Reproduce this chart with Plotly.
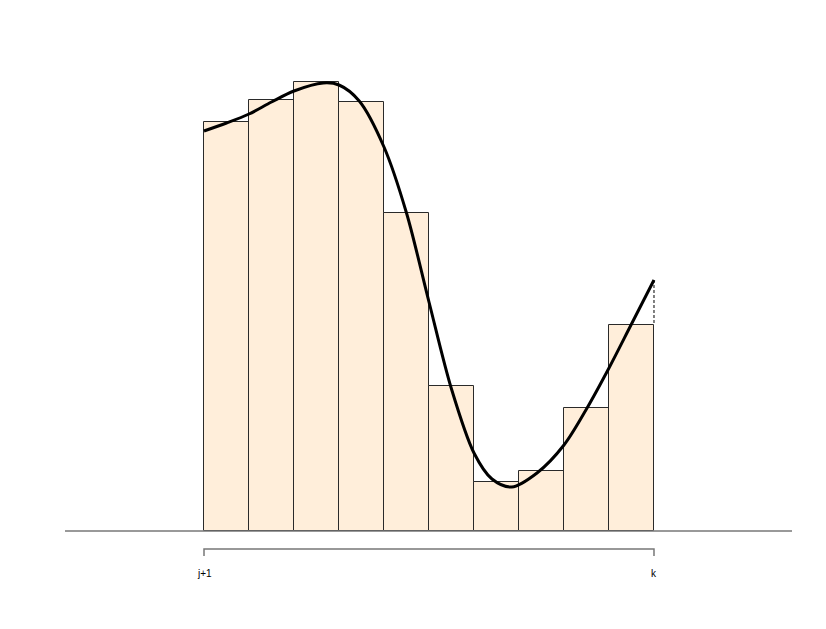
import plotly.graph_objects as go

# bar heights (px units above baseline), one per subinterval j+1 .. k
bar_pos = [0.5, 1.5, 2.5, 3.5, 4.5, 5.5, 6.5, 7.5, 8.5, 9.5]
bar_heights = [409, 431, 449, 429, 318, 145, 49, 60, 123, 206]

# smooth curve
curve_x = [0, 0.5, 1, 1.5, 2, 2.65, 3.0, 3.45, 4.0, 4.5, 5.0, 5.5, 6.0,
           6.4, 6.84, 7.4, 8.0, 8.5, 9.0, 9.5, 10]
curve_y = [400, 408, 417, 429, 440, 448, 446, 430, 384, 318, 229, 142,
           78, 52, 44, 58, 86, 122, 163, 207, 251]

bracket_x = [0, 0, 10, 10]
bracket_y = [-25, -18, -18, -25]
tick_labels = ["j+1", "k"]
tick_pos = [0, 10]

fig = go.Figure()

fig.add_trace(
    go.Bar(
        x=bar_pos,
        y=bar_heights,
        width=1,
        marker=dict(color="#FFEEDA", line=dict(color="#2a2a2a", width=1)),
        hoverinfo="skip",
    )
)

# dashed gap between curve end and last bar
fig.add_trace(
    go.Scatter(
        x=[curve_x[-1], curve_x[-1]],
        y=[curve_y[-1], bar_heights[-1]],
        mode="lines",
        line=dict(color="black", width=1, dash="3px,2px"),
    )
)

fig.add_trace(
    go.Scatter(
        x=curve_x,
        y=curve_y,
        mode="lines",
        line=dict(color="black", width=3, shape="spline", smoothing=0.9),
    )
)

# bracket under the axis
fig.add_trace(
    go.Scatter(
        x=bracket_x,
        y=bracket_y,
        mode="lines",
        line=dict(color="#777777", width=1.5),
    )
)

for lbl, pos in zip(tick_labels, tick_pos):
    fig.add_annotation(
        x=pos, y=-42, text=lbl, showarrow=False,
        font=dict(family="Liberation Sans", size=10, color="black"),
    )

# baseline axis
fig.add_shape(
    type="line", xref="paper", yref="y", x0=0, x1=1, y0=0, y1=0,
    line=dict(color="#777777", width=1.5), layer="above",
)

# body margin of the page pushes the figure 8px right/down
fig.update_layout(
    width=826,
    height=629,
    margin=dict(l=57, r=42, t=22, b=28),
    plot_bgcolor="white",
    paper_bgcolor="white",
    showlegend=False,
    bargap=0,
)
fig.update_xaxes(range=[-3.089, 13.067], visible=False)
fig.update_yaxes(range=[-78, 501], visible=False)

fig.write_html("out.html")
